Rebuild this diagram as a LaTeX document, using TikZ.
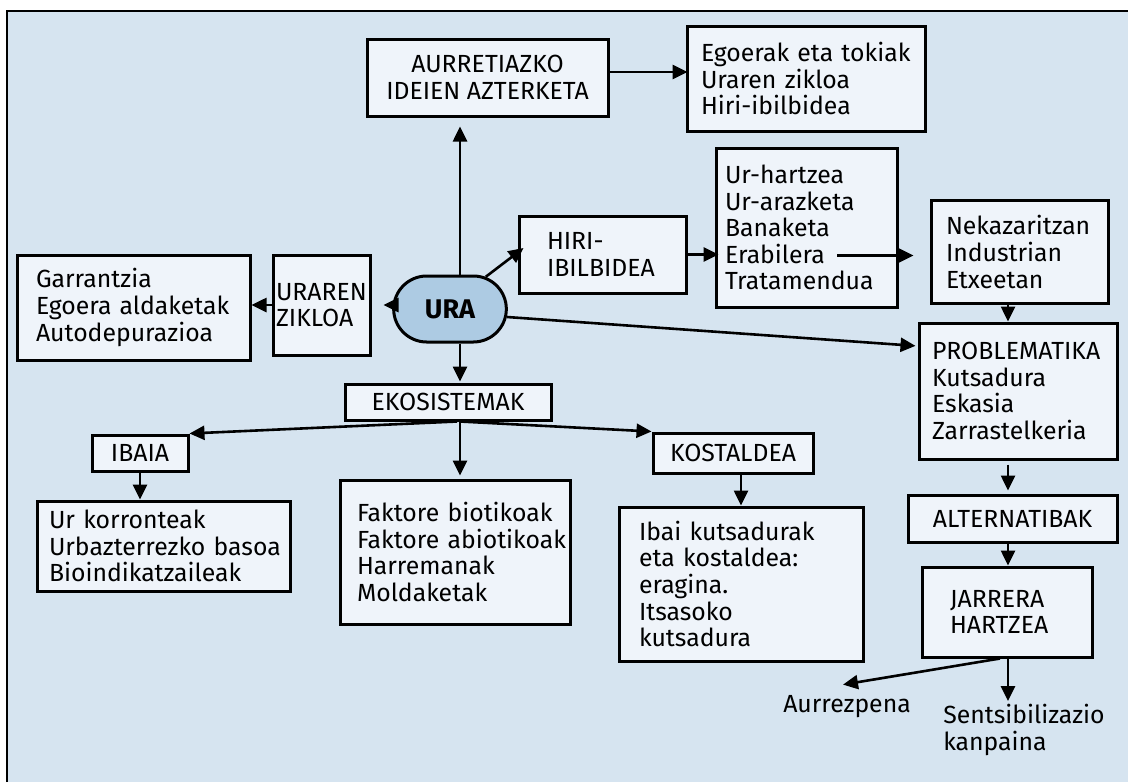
\documentclass[tikz,border=0pt]{standalone}
\usepackage{fontspec}
\setmainfont{Fira Sans}
\usetikzlibrary{positioning, arrows.meta, shapes.misc}
\definecolor{bgblue}{RGB}{214,228,240}
\definecolor{boxfill}{RGB}{239,244,250}
\definecolor{urablue}{RGB}{173,203,227}
\hyphenpenalty=10000

\begin{document}
\begin{tikzpicture}[x=0.5pt,y=-0.5pt,->,>={Triangle[length=7.5pt,width=7pt]},line width=1.3pt,
    every node/.style={font=\fontsize{12.4}{13.3}\selectfont},
    box/.style={draw,line width=1.5pt,fill=boxfill,inner ysep=0pt,align=left},
    ura/.style={rounded rectangle,draw,line width=1.5pt,fill=urablue,minimum width=63pt,
        minimum height=33pt,font=\fontsize{13.5}{14}\selectfont\bfseries},
    plain/.style={inner sep=1pt,align=left}]
    \useasboundingbox (0,0) rectangle (1128,782);
    \fill[bgblue] (7,11) rectangle (1128,782);
    \draw[-] (7,782) -- (7,11) -- (1128,11);

    % goiko adarra
    \node[box,align=center,minimum width=120.5pt,minimum height=38.5pt] (aurre) at (487.5,77.5) {AURRETIAZKO\\IDEIEN~AZTERKETA};
    \node[box,text width=105pt,inner xsep=7pt,minimum height=52.5pt] (egoera) at (806,78.5) {Egoerak~eta~tokiak\\Uraren~zikloa\\Hiri-ibilbidea};

    % hiri-ibilbidea
    \node[box,text width=55.5pt,inner xsep=14pt,minimum height=38.5pt] (hiri) at (602.5,254.5) {HIRI-\\IBILBIDEA};
    \node[box,text width=81.5pt,inner xsep=4.5pt,minimum height=79.5pt] (urbide) at (806.5,227.5) {Ur-hartzea\\Ur-arazketa\\Banaketa\\Erabilera\\Tratamendua};
    \node[box,text width=73.5pt,inner xsep=7.5pt,minimum height=51.25pt] (erabil) at (1019.5,252) {Nekazaritzan\\Industrian\\Etxeetan};
    \coordinate (erab) at (837,255.5);

    % problematika
    \node[box,text width=86pt,inner xsep=6.5pt,minimum height=68pt] (proble) at (1018,391) {PROBLEMATIKA\\Kutsadura\\Eskasia\\Zarrastelkeria};
    \node[box,align=center,minimum width=104.5pt,minimum height=23.5pt] (altern) at (1012.5,518.5) {ALTERNATIBAK};
    \node[box,text width=57pt,inner xsep=14pt,minimum height=45pt] (jarrera) at (1007,612) {JARRERA\\HARTZEA};
    \node[plain,anchor=base] (aurrez) at (847,712) {Aurrezpena};
    \node[plain,anchor=west] (sentsi) at (940,730) {Sentsibilizazio\\kanpaina};

    % ekosistemak
    \node[box,align=center,minimum width=103pt,minimum height=18pt] (ekosis) at (448,402) {EKOSISTEMAK};
    \node[box,align=center,minimum width=48pt,minimum height=18pt] (ibaia) at (140,453) {IBAIA};
    \node[box,text width=114.5pt,inner xsep=6pt,minimum height=45pt] (ibaizat) at (163.5,546) {Ur~korronteak\\Urbazterrezko~basoa\\Bioindikatzaileak};
    \node[box,text width=98pt,inner xsep=8.5pt,minimum height=72pt] (faktore) at (455,552) {Faktore~biotikoak\\Faktore~abiotikoak\\Harremanak\\Moldaketak};
    \node[box,align=center,minimum width=80pt,minimum height=20pt] (kostal) at (733,453) {KOSTALDEA};
    \node[box,text width=102pt,inner xsep=10pt,minimum height=77pt] (kutsa) at (741,584) {Ibai~kutsadurak\\eta~kostaldea:\\eragina.\\Itsasoko\\kutsadura};

    % uraren zikloa
    \node[box,text width=45.5pt,inner xsep=1.5pt,minimum height=50pt] (ziklo) at (321.5,305) {URAREN\\ZIKLOA};
    \node[box,text width=97.5pt,inner xsep=9.5pt,minimum height=52.5pt] (garran) at (133.5,307.5) {Garrantzia\\Egoera~aldaketak\\Autodepurazioa};

    \node[ura] (ura) at (450,309) {URA};

    \coordinate (midx) at (460,0);
    \coordinate (rightx) at (1008,0);

    \path (ura.north -| midx) edge[shorten >=4.5pt] (aurre.south -| midx)
          ([yshift=2.75pt]aurre.east) edge ([xshift=1pt,yshift=2.75pt]aurre.east -| egoera.west)
          (ura.42) edge ([xshift=3pt,yshift=3.25pt]hiri.west)
          (hiri.east) edge ([xshift=2pt]hiri.east -| urbide.west)
          (erab) edge ([xshift=-8pt]erab -| erabil.west)
          (erabil.south -| rightx) edge (proble.north -| rightx)
          (ura.-8) edge[shorten >=1pt] (proble.west |- 0,346)
          (ura.west |- 0,305) edge[shorten >=6pt] (ziklo.east |- 0,305)
          (ziklo.west) edge (ziklo.west -| garran.east)
          (ura.south -| midx) edge[shorten >=0.5pt] (ekosis.north -| midx)
          ([xshift=4.5pt]ekosis.south) edge (ibaia.north east)
          (ekosis.south -| midx) edge[shorten >=1.5pt] (faktore.north -| midx)
          (ekosis.south -| midx) edge (kostal.north west)
          (ibaia.south) edge (ibaia.south |- ibaizat.north)
          (kutsa.north |- kostal.south) edge (kutsa.north)
          (proble.south -| rightx) edge[shorten <=2pt,shorten >=1.5pt] (altern.north -| rightx)
          (altern.south -| rightx) edge (jarrera.north -| rightx)
          ([xshift=-3.5pt]jarrera.south) edge ([xshift=-2pt,yshift=3.5pt]aurrez.north)
          (jarrera.south -| rightx) edge (rightx |- sentsi.north);
\end{tikzpicture}
\end{document}
